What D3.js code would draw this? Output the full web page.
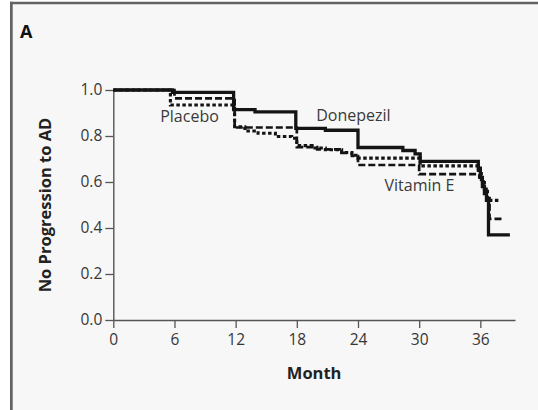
<!DOCTYPE html>
<html>
<head>
<meta charset="utf-8">
<script src="https://cdn.jsdelivr.net/npm/d3@7"></script>
<style>
  html, body { margin: 0; padding: 0; background: #ffffff; }
  svg { display: block; }
  text { font-family: "Open Sans", "Noto Sans", sans-serif; }
</style>
</head>
<body>
<svg id="chart" width="538" height="410"></svg>
<script>
// ---------------- data ----------------
const seriesNames = ["Donepezil", "Vitamin E", "Placebo"];

// [month, proportion without progression] (step function)
const donepezil = [
  [0, 1.0], [5.8, 0.99], [11.8, 0.915], [13.9, 0.905], [17.9, 0.833], [20.8, 0.825],
  [24.0, 0.75], [28.4, 0.737], [29.6, 0.722], [30.1, 0.69],
  [35.8, 0.66], [36.0, 0.62], [36.2, 0.58], [36.4, 0.55], [36.6, 0.52], [36.8, 0.37],
  [38.9, 0.37]
];
const vitaminE = [
  [0, 1.0], [6.0, 0.964], [11.9, 0.837], [18.0, 0.752], [20.0, 0.742], [22.4, 0.727],
  [23.4, 0.713], [24.0, 0.674], [30.0, 0.634],
  [35.9, 0.62], [36.3, 0.57], [36.6, 0.53], [36.9, 0.44], [38.3, 0.44]
];
const placebo = [
  [0, 1.0], [5.6, 0.935], [11.9, 0.84], [12.9, 0.822], [14.2, 0.812], [15.9, 0.798],
  [17.5, 0.79], [18.0, 0.758], [19.5, 0.748], [20.8, 0.74], [22.4, 0.728], [23.4, 0.716],
  [24.0, 0.704], [30.1, 0.67],
  [35.8, 0.65], [36.1, 0.61], [36.4, 0.57], [36.7, 0.52], [38.0, 0.52]
];

const xTicks = [0, 6, 12, 18, 24, 30, 36];
const yTicks = [0.0, 0.2, 0.4, 0.6, 0.8, 1.0];

// label anchors in data units [month, value]
const labelPos = {
  "Placebo":   [4.6, 0.86],
  "Donepezil": [19.9, 0.865],
  "Vitamin E": [26.6, 0.56]
};

// ---------------- drawing ----------------
const svg = d3.select("#chart");

// panel background and frame
svg.append("rect").attr("x", 10).attr("y", 2).attr("width", 540).attr("height", 420)
  .attr("fill", "#f7f7f7");
svg.append("line").attr("x1", 11.35).attr("x2", 11.35).attr("y1", 1.7).attr("y2", 420)
  .attr("stroke", "#636363").attr("stroke-width", 2.7);
svg.append("line").attr("x1", 10).attr("x2", 540).attr("y1", 3).attr("y2", 3)
  .attr("stroke", "#636363").attr("stroke-width", 2.7);

svg.append("text").attr("x", 20).attr("y", 37.5)
  .attr("font-size", 18).attr("font-weight", 700).attr("fill", "#111")
  .text("A");

const x = d3.scaleLinear().domain([0, 39.4]).range([113.3, 515]);
const y = d3.scaleLinear().domain([0, 1]).range([320, 90]);

const axisColor = "#555";
const tickText = "#363636";

const xAxis = d3.axisBottom(x).tickValues(xTicks).tickFormat(d3.format("d"))
  .tickSize(8).tickPadding(6).tickSizeOuter(0);
const gx = svg.append("g").attr("transform", `translate(0,${y(0)})`).call(xAxis);
gx.select(".domain").attr("stroke", axisColor).attr("stroke-width", 1.4);
gx.selectAll(".tick line").attr("stroke", axisColor).attr("stroke-width", 1.3);
gx.selectAll(".tick text").attr("font-size", 15.5).attr("fill", tickText)
  .attr("font-family", "'Open Sans', sans-serif");

const yAxis = d3.axisLeft(y).tickValues(yTicks).tickFormat(d3.format(".1f"))
  .tickSize(8).tickPadding(3).tickSizeOuter(0);
const gy = svg.append("g").attr("transform", `translate(${x(0)},0)`).call(yAxis);
gy.select(".domain").attr("stroke", axisColor).attr("stroke-width", 1.4);
gy.selectAll(".tick line").attr("stroke", axisColor).attr("stroke-width", 1.3);
gy.selectAll(".tick text").attr("font-size", 15.5).attr("fill", tickText)
  .attr("font-family", "'Open Sans', sans-serif");

// axis titles
svg.append("text")
  .attr("x", (x.range()[0] + x.range()[1]) / 2).attr("y", 379)
  .attr("text-anchor", "middle").attr("font-size", 16.5).attr("font-weight", 700)
  .attr("fill", "#222").text("Month");
svg.append("text")
  .attr("transform", `translate(51,${(y(0) + y(1)) / 2}) rotate(-90)`)
  .attr("text-anchor", "middle").attr("font-size", 16.5).attr("font-weight", 700)
  .attr("fill", "#222").text("No Progression to AD");

// curves
const line = d3.line().x(d => x(d[0])).y(d => y(d[1])).curve(d3.curveStepAfter);
const styles = {
  "Donepezil": { data: donepezil, width: 3.3, dash: null },
  "Vitamin E": { data: vitaminE, width: 2.7, dash: "7,3" },
  "Placebo":   { data: placebo, width: 3.1, dash: "3.5,2.5" }
};
["Placebo", "Vitamin E", "Donepezil"].forEach(name => {
  const s = styles[name];
  svg.append("path").datum(s.data)
    .attr("d", line).attr("fill", "none")
    .attr("stroke", "#141414").attr("stroke-width", s.width)
    .attr("stroke-dasharray", s.dash);
});

// series labels
seriesNames.forEach(name => {
  const p = labelPos[name];
  svg.append("text").attr("x", x(p[0])).attr("y", y(p[1]))
    .attr("font-size", 16).attr("fill", "#3a3a3a").text(name);
});
</script>
</body>
</html>
